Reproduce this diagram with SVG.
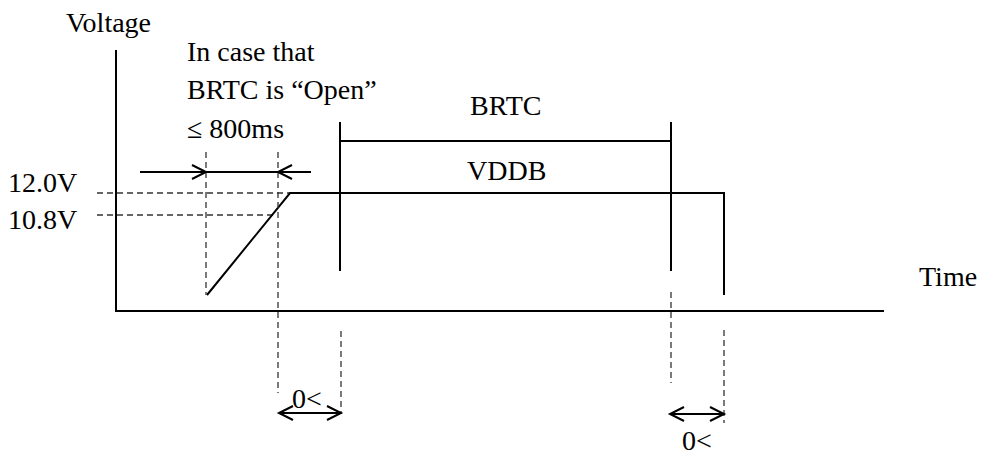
<svg xmlns="http://www.w3.org/2000/svg" width="988" height="455" viewBox="0 0 988 455">
<style>
text{font-family:"Liberation Serif","Times New Roman",serif;font-size:28px;fill:#000}
.s{stroke:#000;stroke-width:2;fill:none}
.d{stroke:#333;stroke-width:1.3;stroke-dasharray:6,4;fill:none}
.ah{stroke:#000;stroke-width:2;fill:none}
</style>
<rect width="988" height="455" fill="#fff"/>
<g id="axes">
<line class="s" x1="116" y1="50" x2="116" y2="311"/>
<line class="s" x1="115" y1="311" x2="884" y2="311"/>
<text x="66" y="32">Voltage</text>
<text x="919" y="286">Time</text>
</g>
<g id="levels">
<line class="d" x1="97" y1="193" x2="290" y2="193"/>
<line class="d" x1="97" y1="215" x2="277" y2="215"/>
<text x="8" y="192">12.0V</text>
<text x="8" y="229">10.8V</text>
</g>
<g id="vddb">
<polyline class="s" points="207,295 290,193 724,193 724,295"/>
<text x="467" y="180">VDDB</text>
</g>
<g id="brtc">
<line class="s" x1="340" y1="122" x2="340" y2="271"/>
<line class="s" x1="671" y1="122" x2="671" y2="271"/>
<line class="s" x1="340" y1="141" x2="671" y2="141"/>
<text x="470" y="115">BRTC</text>
</g>
<g id="note">
<text x="187" y="61">In case that</text>
<text x="187" y="99">BRTC is “Open”</text>
<text x="187" y="138">≤ 800ms</text>
</g>
<g id="connectors">
<line class="d" x1="206" y1="152" x2="206" y2="295"/>
<line class="d" x1="278" y1="152" x2="278" y2="393"/>
<line class="d" x1="341" y1="331" x2="341" y2="414"/>
<line class="d" x1="671" y1="292" x2="671" y2="383"/>
<line class="d" x1="724" y1="330" x2="724" y2="423"/>
<line class="s" x1="140" y1="172" x2="311" y2="172"/>
<polyline class="ah" points="192,165 206,172 192,179"/>
<polyline class="ah" points="292,165 278,172 292,179"/>
<line class="s" x1="279" y1="413" x2="341" y2="413"/>
<polyline class="ah" points="293,406 279,413 293,420"/>
<polyline class="ah" points="327,406 341,413 327,420"/>
<line class="s" x1="670" y1="414" x2="724" y2="414"/>
<polyline class="ah" points="684,407 670,414 684,421"/>
<polyline class="ah" points="710,407 724,414 710,421"/>
</g>
<g id="labels">
<text x="292" y="408">0&lt;</text>
<text x="682" y="450">0&lt;</text>
</g>
</svg>
